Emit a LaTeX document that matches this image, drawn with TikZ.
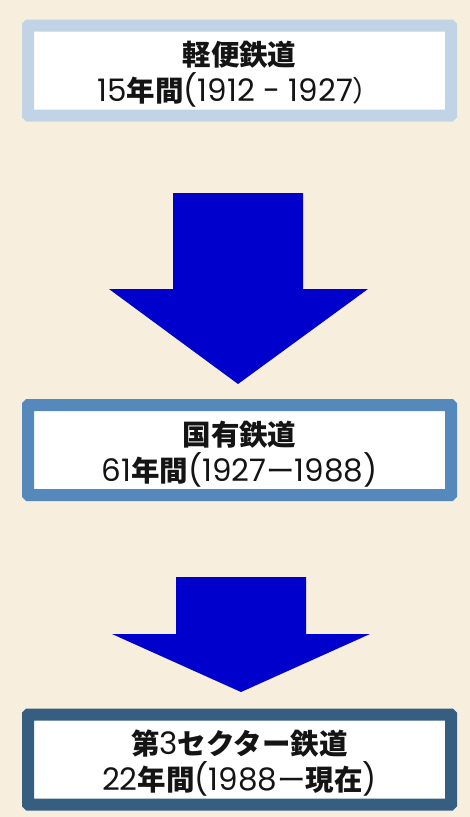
\documentclass[tikz,border=0pt]{standalone}
\usepackage{fontspec}
\setmainfont{Poppins}
\newfontfamily\jpfont{Noto Sans CJK JP}
\newcommand{\JB}[1]{{\jpfont\bfseries\fontsize{28.5}{36}\selectfont #1}}
\newcommand{\JR}[1]{{\jpfont\fontsize{28.5}{36}\selectfont #1}}
\definecolor{bg}{HTML}{F7EEDE}
\definecolor{bcA}{HTML}{C1D4E5}
\definecolor{bcB}{HTML}{5589BB}
\definecolor{bcC}{HTML}{365E80}
\definecolor{arrowc}{HTML}{0000CC}
\tikzset{
  x=1pt, y=-1pt,
  stagebox/.style={draw=#1, line width=12pt, fill=white, rounded corners=0.6pt,
    minimum width=423pt, minimum height=90pt, inner sep=0pt},
  stagetext/.style={text=black!92, align=center, inner sep=0pt,
    font=\fontsize{31}{36}\selectfont},
  blockarrow/.style={fill=arrowc, draw=none}
}
\begin{document}
\begin{tikzpicture}
\fill[bg] (0,0) rectangle (470,817);
\useasboundingbox (0,0) rectangle (470,817);

\node[stagebox=bcA] (b1) at (239.5,70.5) {};
\node[stagetext] (t1) at ([yshift=-4pt]b1.center) {\JB{軽便鉄道}\\15\JB{年間}(1912 - 1927\JR{）}};
\node[stagebox=bcB] (b2) at (239.5,450) {};
\node[stagetext] (t2) at ([yshift=-4pt]b2.center) {\JB{国有鉄道}\\61\JB{年間}(1927\JR{ー}1988)};
\node[stagebox=bcC] (b3) at (239.5,759.5) {};
\node[stagetext] (t3) at ([yshift=-4pt]b3.center) {\JB{第}3\JB{セクター鉄道}\\22\JB{年間}(1988\JR{ー}\JB{現在})};

% block arrows between stages
\coordinate (a1tip) at (238,384);
\fill[blockarrow] (173,193) -- (303,193) -- (303,289) -- (368,289) -- (a1tip) -- (109,289) -- (173,289) -- cycle;
\coordinate (a2tip) at (241,692);
\fill[blockarrow] (176,577) -- (306,577) -- (306,634) -- (370,634) -- (a2tip) -- (112,634) -- (176,634) -- cycle;
\end{tikzpicture}
\end{document}
